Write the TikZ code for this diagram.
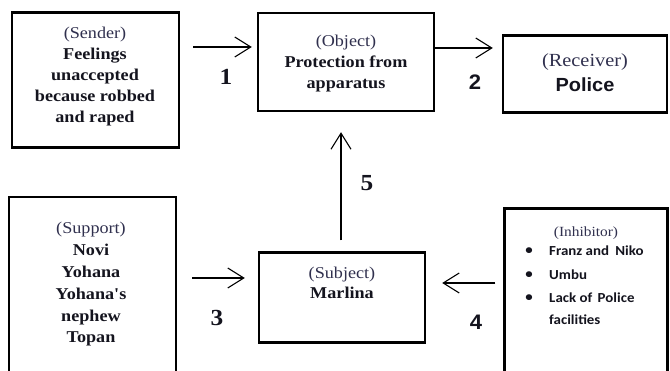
\documentclass[tikz,border=0pt]{standalone}
\usepackage{fontspec}
\setmainfont{Liberation Serif}[FakeStretch=1.1]
\setsansfont{Liberation Sans}[FakeStretch=1.05]
\newfontfamily\calibfont{Carlito}[FakeStretch=1.08]
\usetikzlibrary{arrows.meta}
\definecolor{labcol}{RGB}{48,48,78}
\definecolor{inkcol}{RGB}{20,20,30}
\newcommand\rolelabel[1]{{\mdseries\color{labcol}#1}}
\newcommand\straightquote{{\addfontfeatures{Ligatures=TeXOff}'}}
\begin{document}
\begin{tikzpicture}[x=1pt,y=-1pt,
  box/.style={draw=black, line width=2.4pt, inner sep=0pt},
  txt/.style={align=center, inner sep=0pt, text=inkcol,
    font=\fontsize{16.5}{21}\selectfont\bfseries},
  num/.style={inner sep=0pt, text=inkcol, font=\fontsize{23}{23}\selectfont\bfseries},
  numsans/.style={num, font=\sffamily\fontsize{21}{21}\selectfont\bfseries},
  item/.style={inner sep=0pt, anchor=west, text=inkcol,
    font=\calibfont\fontsize{13.8}{16}\selectfont\bfseries},
  dot/.style={inner sep=0pt, text=inkcol, font=\calibfont\fontsize{13.8}{16}\selectfont\bfseries},
  arr/.style={line width=1.1pt, -{Straight Barb[length=16pt,width=20pt,line width=1.1pt]}},
]
\clip (0,0) rectangle (670,371);
\fill[white] (0,0) rectangle (670,371);

% boxes
\node[box, minimum width=167pt, minimum height=135pt] (sender)    at (95.5,80)   {};
\node[box, minimum width=176pt, minimum height=98pt]  (object)    at (346,62)    {};
\node[box, minimum width=164pt, minimum height=77pt]  (receiver)  at (585,74)    {};
\node[box, minimum width=167pt, minimum height=183pt] (support)   at (92.5,288.5){};
\node[box, minimum width=166pt, minimum height=90pt]  (subject)   at (342,297.5) {};
\node[box, minimum width=163pt, minimum height=171pt] (inhibitor) at (586,294)   {};

% box texts
\node[txt] (sendertext) at (95,76.5)
  {\rolelabel{(Sender)}\\Feelings\\unaccepted\\because robbed\\and raped};
\node[txt] (objecttext) at (346,63.5)
  {\rolelabel{(Object)}\\Protection from\\apparatus};
\node[txt, font=\fontsize{18.5}{25}\selectfont\bfseries] (receivertext) at (585,72.5)
  {\rolelabel{(Receiver)}\\{\sffamily\fontsize{19}{25}\selectfont Police}};
\node[txt, font=\fontsize{16.5}{21.8}\selectfont\bfseries] (supporttext) at (91,284.5)
  {\rolelabel{(Support)}\\Novi\\Yohana\\Yohana\straightquote s\\nephew\\Topan};
\node[txt, font=\fontsize{16.5}{20}\selectfont\bfseries] (subjecttext) at (342,283)
  {\rolelabel{(Subject)}\\Marlina};

\node[inner sep=0pt, text=labcol, font=\fontsize{14}{16}\selectfont] (inhtitle) at (586,233) {(Inhibitor)};
\node[dot] (b1) at (529,251) {\textbullet};
\node[dot] (b2) at (529,275) {\textbullet};
\node[dot] (b3) at (529,298) {\textbullet};
\node[item] (inh1) at (549,251) {Franz and\hspace{3pt} Niko};
\node[item] (inh2) at (549,275) {Umbu};
\node[item] (inh3) at (549,298) {Lack of\hspace{2pt} Police};
\node[item] (inh4) at (549,320) {facilities};

% step numbers
\node[num]     (n1) at (226,77)  {1};
\node[numsans] (n2) at (475,82)  {2};
\node[num]     (n3) at (217,318) {3};
\node[numsans] (n4) at (476,322) {4};
\node[num]     (n5) at (367,183) {5};

% connectors
\draw[arr, shorten <=13pt, shorten >=5pt]
  ([yshift=33pt]sender.east) -- ([yshift=15pt]object.west);
\draw[arr, shorten >=9pt]
  ([yshift=14pt]object.east) -- ([yshift=26pt]receiver.west);
\draw[arr, shorten <=15pt, shorten >=13pt]
  ([yshift=10.5pt]support.east) -- ([yshift=19.5pt]subject.west);
\draw[arr, shorten <=8pt, shorten >=16pt]
  ([yshift=11pt]inhibitor.west) -- ([yshift=14.5pt]subject.east);
\draw[arr, shorten <=11pt, shorten >=20pt]
  ([xshift=-1pt]subject.north) -- ([xshift=-5pt]object.south);
\end{tikzpicture}
\end{document}
